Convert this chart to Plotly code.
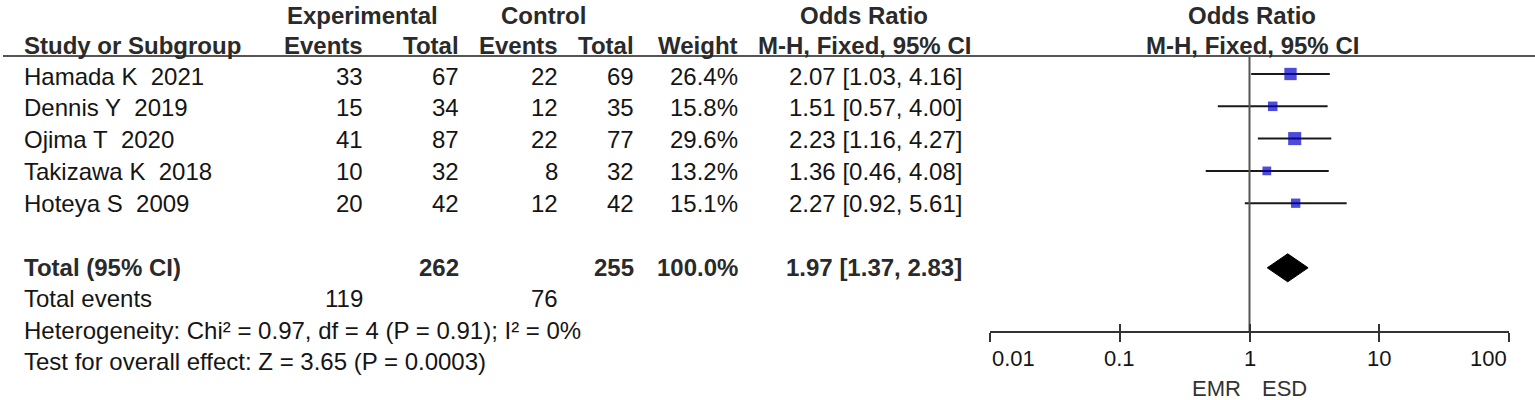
import math
import plotly.graph_objects as go

# ---------------- data ----------------
studies = ["Hamada K\u00a0 2021", "Dennis Y\u00a0 2019", "Ojima T\u00a0 2020",
           "Takizawa K\u00a0 2018", "Hoteya S\u00a0 2009"]
exp_events = [33, 15, 41, 10, 20]
exp_total = [67, 34, 87, 32, 42]
ctl_events = [22, 12, 22, 8, 12]
ctl_total = [69, 35, 77, 32, 42]
weight = [26.4, 15.8, 29.6, 13.2, 15.1]
or_est = [2.07, 1.51, 2.23, 1.36, 2.27]
or_lo = [1.03, 0.57, 1.16, 0.46, 0.92]
or_hi = [4.16, 4.00, 4.27, 4.08, 5.61]

total_label = "Total (95% CI)"
total_exp_n = 262
total_ctl_n = 255
total_weight = 100.0
total_or = 1.97
total_lo = 1.37
total_hi = 2.83
total_exp_events = 119
total_ctl_events = 76
heterogeneity = "Heterogeneity: Chi² = 0.97, df = 4 (P = 0.91); I² = 0%"
overall_test = "Test for overall effect: Z = 3.65 (P = 0.0003)"

null_or = 1
tick_vals = [0.01, 0.1, 1, 10, 100]
tick_text = ["0.01", "0.1", "1", "10", "100"]
favours_left = "EMR"
favours_right = "ESD"

# ---------------- layout constants ----------------
W, H = 1535, 400
ROW0, ROWH = 74.0, 32.3            # pixel of row 0, row pitch (forest marks)
AXIS_PX = 332                       # pixel of forest x-axis line
HEAD_LINE_PX = 56
FOREST_L, FOREST_R = 990, 1509

def row_of(px):
    return (px - ROW0) / ROWH

FONT = "Liberation Sans, Arial, sans-serif"
TXT = "#151515"
HEAD = "#2a2a2a"
FS = 24
FSB = 24

NAME_X = 22
C_EXP_EV, C_EXP_TOT, C_CTL_EV, C_CTL_TOT, C_WT, C_OR = 365, 461, 560, 636, 740, 964
OR_HEAD_X = 864
EXP_HEAD_X, CTL_HEAD_X = 362, 543
FOREST_HEAD_X = 1252

# text row pixel centres
STUDY_PX = [76, 107, 139, 171, 203]
TOTAL_PX, EVENTS_PX, HET_PX, TEST_PX = 267, 298, 330, 361
HEAD1_PX, HEAD2_PX = 15, 45
TICKLAB_PX, FAV_PX = 358, 388

fig = go.Figure()

# CI lines
ci_x, ci_y = [], []
for i in range(len(studies)):
    ci_x += [or_lo[i], or_hi[i], None]
    ci_y += [i, i, None]
fig.add_trace(go.Scatter(x=ci_x, y=ci_y, mode="lines", xaxis="x2", yaxis="y",
                         line=dict(color="#1a1a1a", width=2), hoverinfo="skip"))

# squares (area proportional to weight)
fig.add_trace(go.Scatter(x=or_est, y=list(range(len(studies))), mode="markers",
                         xaxis="x2", yaxis="y",
                         marker=dict(symbol="square", color="#0000C8",
                                     size=[2.4 * w ** 0.5 for w in weight],
                                     line=dict(width=0)), hoverinfo="skip"))

# pooled diamond
total_row = len(studies) + 1
dh = 14 / ROWH
fig.add_trace(go.Scatter(x=[total_lo, total_or, total_hi, total_or, total_lo],
                         y=[total_row, total_row - dh, total_row, total_row + dh, total_row],
                         mode="lines", fill="toself", fillcolor="#000000",
                         line=dict(color="#000000", width=1), xaxis="x2", yaxis="y",
                         hoverinfo="skip"))

# reference line at OR = 1
fig.add_trace(go.Scatter(x=[null_or, null_or], y=[row_of(HEAD_LINE_PX), row_of(AXIS_PX)],
                         mode="lines", xaxis="x3", yaxis="y",
                         line=dict(color="#555555", width=2), hoverinfo="skip"))

ann = []

def txt(x, px, s, anchor="left", bold=False):
    ann.append(dict(x=x, y=row_of(px), xref="x", yref="y", text=f"<b>{s}</b>" if bold else s,
                    showarrow=False, xanchor=anchor, yanchor="middle",
                    font=dict(family=FONT, size=FSB if bold else FS,
                              color=HEAD if bold else TXT)))

# headers
txt(EXP_HEAD_X, HEAD1_PX, "Experimental", "center", True)
txt(CTL_HEAD_X, HEAD1_PX, "Control", "center", True)
txt(OR_HEAD_X, HEAD1_PX, "Odds Ratio", "center", True)
txt(FOREST_HEAD_X, HEAD1_PX, "Odds Ratio", "center", True)
txt(NAME_X, HEAD2_PX, "Study or Subgroup", "left", True)
txt(C_EXP_EV, HEAD2_PX, "Events", "right", True)
txt(C_EXP_TOT, HEAD2_PX, "Total", "right", True)
txt(C_CTL_EV, HEAD2_PX, "Events", "right", True)
txt(C_CTL_TOT, HEAD2_PX, "Total", "right", True)
txt(C_WT, HEAD2_PX, "Weight", "right", True)
txt(OR_HEAD_X, HEAD2_PX, "M-H, Fixed, 95% CI", "center", True)
txt(FOREST_HEAD_X, HEAD2_PX, "M-H, Fixed, 95% CI", "center", True)

# study rows
for i, s in enumerate(studies):
    p = STUDY_PX[i]
    txt(NAME_X, p, s)
    txt(C_EXP_EV, p, str(exp_events[i]), "right")
    txt(C_EXP_TOT, p, str(exp_total[i]), "right")
    txt(C_CTL_EV, p, str(ctl_events[i]), "right")
    txt(C_CTL_TOT, p, str(ctl_total[i]), "right")
    txt(C_WT, p, f"{weight[i]:.1f}%", "right")
    txt(C_OR, p, f"{or_est[i]:.2f} [{or_lo[i]:.2f}, {or_hi[i]:.2f}]", "right")

# total rows
txt(NAME_X, TOTAL_PX, total_label, "left", True)
txt(C_EXP_TOT, TOTAL_PX, str(total_exp_n), "right", True)
txt(C_CTL_TOT, TOTAL_PX, str(total_ctl_n), "right", True)
txt(C_WT, TOTAL_PX, f"{total_weight:.1f}%", "right", True)
txt(C_OR, TOTAL_PX, f"{total_or:.2f} [{total_lo:.2f}, {total_hi:.2f}]", "right", True)
txt(NAME_X, EVENTS_PX, "Total events")
txt(C_EXP_EV, EVENTS_PX, str(total_exp_events), "right")
txt(C_CTL_EV, EVENTS_PX, str(total_ctl_events), "right")
txt(NAME_X, HET_PX, heterogeneity)
txt(NAME_X, TEST_PX, overall_test)

# forest axis tick labels and favour labels
for k, (v, t) in enumerate(zip(tick_vals, tick_text)):
    anchor = "left" if k == 0 else ("right" if k == len(tick_vals) - 1 else "center")
    ann.append(dict(x=math.log10(v), y=row_of(TICKLAB_PX), xref="x2", yref="y", text=t,
                    showarrow=False, xanchor=anchor, yanchor="middle",
                    font=dict(family=FONT, size=22, color=TXT)))
ann.append(dict(x=math.log10(null_or), y=row_of(FAV_PX), xref="x2", yref="y", text=favours_left,
                showarrow=False, xanchor="right", xshift=-7, yanchor="middle",
                font=dict(family=FONT, size=22, color="#333333")))
ann.append(dict(x=math.log10(null_or), y=row_of(FAV_PX), xref="x2", yref="y", text=favours_right,
                showarrow=False, xanchor="left", xshift=10, yanchor="middle",
                font=dict(family=FONT, size=22, color="#333333")))

forest_dom = [FOREST_L / W, FOREST_R / W]
axis_pos = (H - AXIS_PX) / H
common_forest = dict(type="log", range=[-2, 2], domain=forest_dom, anchor="free",
                     position=axis_pos, tickvals=tick_vals,
                     showticklabels=False, showgrid=False, zeroline=False,
                     tickcolor="#333333", tickwidth=2, fixedrange=True)

fig.update_layout(
    width=W, height=H, margin=dict(l=0, r=0, t=0, b=0),
    paper_bgcolor="white", plot_bgcolor="rgba(0,0,0,0)", showlegend=False,
    xaxis=dict(range=[0, W], domain=[0, 1], visible=False, fixedrange=True),
    yaxis=dict(range=[row_of(H), row_of(0)], domain=[0, 1], visible=False, fixedrange=True),
    xaxis2=dict(**common_forest, showline=True, linecolor="#333333", linewidth=2,
                ticks="outside", ticklen=9),
    xaxis3=dict(**common_forest, overlaying="x2", showline=False, ticks="inside", ticklen=8),
    annotations=ann,
    shapes=[dict(type="line", xref="paper", yref="paper", x0=3 / W, x1=1,
                 y0=(H - HEAD_LINE_PX) / H, y1=(H - HEAD_LINE_PX) / H,
                 line=dict(color="#555555", width=2))],
)

fig.write_html("out.html", config={"displayModeBar": False},
               post_script="document.body.style.margin='0';document.body.style.overflow='hidden';")
